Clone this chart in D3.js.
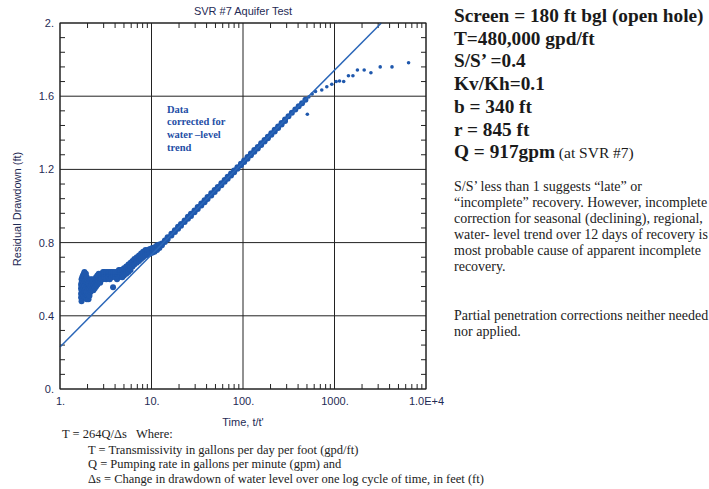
<!DOCTYPE html>
<html>
<head>
<meta charset="utf-8">
<title>SVR #7 Aquifer Test</title>
<style>
  body { margin: 0; background: #ffffff; }
  .sans { font-family: "Liberation Sans", Arial, sans-serif; }
  .serif { font-family: "Liberation Serif", "Times New Roman", serif; }
</style>
</head>
<body>
<script src="https://cdn.jsdelivr.net/npm/d3@7/dist/d3.min.js"></script>
<script>

// residual drawdown (ft) vs t/t'
var tRatio = [
  1.70,1.70,1.70,1.70, 1.72,1.72,1.72,1.72, 1.75,1.75,1.75,1.75, 1.78,1.78,1.78,1.78,
  1.82,1.82,1.82,1.82, 1.85,1.85,1.85,1.85, 1.88,1.88,1.88,1.88, 1.92,1.92,1.92,1.92,
  1.96,1.96,1.96,1.96, 2.00,2.00,2.00,2.00, 2.05,2.05,2.05,2.05, 2.10,2.10,2.10,2.10,
  2.15,2.15,2.15, 2.20,2.20,2.20, 2.26,2.26,2.26, 2.32,2.32,2.32, 2.40,2.40,2.40,
  2.48,2.48,2.48, 2.56,2.56,2.56, 2.65,2.65,2.65, 2.75,2.75,2.75, 2.85,2.85,2.85,
  2.95,2.95,2.95, 3.05,3.05,3.05, 3.20,3.20,3.20, 3.35,3.35,3.35, 3.50,3.50,3.50,
  3.65,3.65,3.65, 3.80,3.80,3.80, 4.00,4.00,4.00, 4.20,4.20,4.20, 4.40,4.40,4.40,
  4.60,4.60,4.60, 4.80,4.80,4.80, 5.00,5.00,5.00, 5.30,5.30,5.30, 5.60,5.60,5.60,
  5.90,5.90,5.90, 6.20,6.20,6.20, 6.50,6.50,6.50, 6.90,6.90,6.90, 7.30,7.30,7.30,
  7.70,7.70,7.70, 8.10,8.10,8.10, 8.60,8.60,8.60, 9.10,9.10,9.10, 9.60,9.60,9.60,
  10.2,10.2,10.2, 10.8,10.8,10.8, 11.5,11.5,11.5, 12.2,12.2,12.2,
  13,13, 14,14, 15,15, 16.5,16.5, 18,18, 19.5,19.5, 21,21, 23,23, 25,25, 27,27,
  29.5,29.5, 32,32, 35,35, 38,38, 41,41, 45,45, 49,49, 53,53, 58,58, 63,63,
  68,68, 74,74, 80,80, 87,87, 95,95, 103,103, 112,112, 122,122, 133,133, 145,145,
  158,158, 172,172, 187,187, 204,204, 222,222, 242,242, 264,264, 288,288,
  314, 342, 373, 406, 442, 481, 505, 524, 570, 620,
  726, 824, 934, 1042, 1134, 1260, 1420, 1590, 1780, 2110, 2500, 3160, 4250, 6450
];
var resid = [
  0.52,0.55,0.57,0.50, 0.54,0.58,0.60,0.48, 0.56,0.59,0.52,0.61, 0.57,0.53,0.60,0.62,
  0.55,0.63,0.58,0.51, 0.56,0.61,0.53,0.64, 0.54,0.59,0.62,0.50, 0.55,0.60,0.52,0.63,
  0.53,0.58,0.49,0.61, 0.55,0.51,0.59,0.57, 0.56,0.52,0.58,0.49, 0.55,0.57,0.59,0.51,
  0.56,0.53,0.60, 0.57,0.59,0.54, 0.58,0.55,0.60, 0.57,0.59,0.54, 0.58,0.60,0.55,
  0.59,0.61,0.56, 0.60,0.57,0.62, 0.59,0.61,0.63, 0.60,0.62,0.58, 0.61,0.63,0.60,
  0.62,0.60,0.64, 0.61,0.63,0.64, 0.62,0.64,0.60, 0.63,0.61,0.64, 0.62,0.64,0.60,
  0.63,0.61,0.64, 0.62,0.64,0.556, 0.61,0.63,0.64, 0.62,0.64,0.60, 0.63,0.61,0.65,
  0.62,0.64,0.65, 0.63,0.65,0.61, 0.64,0.62,0.66, 0.65,0.63,0.67, 0.66,0.64,0.68,
  0.67,0.65,0.69, 0.68,0.67,0.70, 0.69,0.68,0.71, 0.70,0.69,0.72, 0.71,0.70,0.73,
  0.72,0.71,0.74, 0.73,0.72,0.75, 0.74,0.73,0.76, 0.745,0.76,0.735, 0.75,0.765,0.74,
  0.755,0.77,0.745, 0.76,0.775,0.75, 0.77,0.785,0.76, 0.78,0.79,0.77,
  0.795,0.785, 0.812,0.803, 0.829,0.818, 0.848,0.839, 0.867,0.858, 0.886,0.876,
  0.902,0.892, 0.921,0.912, 0.941,0.930, 0.957,0.946,
  0.976,0.966, 0.994,0.984, 1.014,1.003, 1.031,1.021, 1.049,1.038, 1.069,1.058,
  1.087,1.077, 1.104,1.094, 1.125,1.114, 1.142,1.132,
  1.160,1.149, 1.178,1.167, 1.194,1.184, 1.212,1.203, 1.231,1.222, 1.249,1.240,
  1.268,1.258, 1.287,1.277, 1.306,1.296, 1.323,1.314,
  1.343,1.333, 1.361,1.352, 1.379,1.370, 1.398,1.389, 1.416,1.407, 1.435,1.426,
  1.454,1.446, 1.472,1.464,
  1.491, 1.509, 1.527, 1.545, 1.562, 1.580, 1.501, 1.596, 1.612, 1.626,
  1.634, 1.652, 1.665, 1.680, 1.683, 1.680, 1.712, 1.712, 1.743, 1.743, 1.728, 1.760, 1.760, 1.783
];

// straight-line fit (Jacob), ends of the drawn segment
var fitT = [1, 3250];
var fitS = [0.23, 2.0];

var xMajor = [1, 10, 100, 1000, 10000];
var xLabels = ["1.", "10.", "100.", "1000.", "1.0E+4"];
var yMajor = [0, 0.4, 0.8, 1.2, 1.6, 2.0];
var yLabels = ["0.", "0.4", "0.8", "1.2", "1.6", "2."];

var paramLines = [
  "Screen = 180 ft bgl (open hole)",
  "T=480,000 gpd/ft",
  "S/S\u2019 =0.4",
  "Kv/Kh=0.1",
  "b = 340 ft",
  "r = 845 ft",
  "Q = 917gpm"
];
var noteLines = [
  "S/S\u2019 less than 1 suggests \u201Clate\u201D or",
  "\u201Cincomplete\u201D recovery. However, incomplete",
  "correction for seasonal (declining), regional,",
  "water- level trend over 12 days of recovery is",
  "most probable cause of apparent incomplete",
  "recovery."
];
var noteLines2 = [
  "Partial penetration corrections neither needed",
  "nor applied."
];
var annotLines = ["Data", "corrected for", "water \u2013level", "trend"];
var legendLines = [
  "T = Transmissivity in gallons per day per foot (gpd/ft)",
  "Q = Pumping rate in gallons per minute (gpm) and",
  "\u0394s = Change in drawdown of water level over one log cycle of time, in feet (ft)"
];

var width = 709, height = 489;
var pL = 60, pT = 23, pR = 426, pB = 389;
var ink = "#1f2b55", blue = "#1f58ad";

var svg = d3.select("body").append("svg")
  .attr("width", width)
  .attr("height", height);

svg.append("rect").attr("width", width).attr("height", height).attr("fill", "#fff");

var x = d3.scaleLog().domain([1, 1e4]).range([pL, pR]);
var y = d3.scaleLinear().domain([0, 2]).range([pB, pT]);

var plot = svg.append("g");

// grid
plot.selectAll(".vgrid").data(xMajor).enter().append("line")
  .attr("x1", d => x(d)).attr("x2", d => x(d))
  .attr("y1", pT).attr("y2", pB)
  .attr("stroke", "#222").attr("stroke-width", 1);
plot.selectAll(".hgrid").data(yMajor).enter().append("line")
  .attr("x1", pL).attr("x2", pR)
  .attr("y1", d => y(d)).attr("y2", d => y(d))
  .attr("stroke", "#222").attr("stroke-width", 1);

// minor ticks
var xMinor = x.ticks().filter(d => xMajor.indexOf(d) < 0);
plot.selectAll(".xmb").data(xMinor).enter().append("line")
  .attr("x1", d => x(d)).attr("x2", d => x(d))
  .attr("y1", pB).attr("y2", pB - 5)
  .attr("stroke", "#222");
plot.selectAll(".xmt").data(xMinor).enter().append("line")
  .attr("x1", d => x(d)).attr("x2", d => x(d))
  .attr("y1", pT).attr("y2", pT + 5)
  .attr("stroke", "#222");
var yMinor = d3.range(1, 25).filter(i => i % 5 != 0).map(i => i * 0.08);
plot.selectAll(".yml").data(yMinor).enter().append("line")
  .attr("x1", pL).attr("x2", pL + 5)
  .attr("y1", d => y(d)).attr("y2", d => y(d))
  .attr("stroke", "#222");
plot.selectAll(".ymr").data(yMinor).enter().append("line")
  .attr("x1", pR).attr("x2", pR - 5)
  .attr("y1", d => y(d)).attr("y2", d => y(d))
  .attr("stroke", "#222");

// axes labels
var xAxis = svg.append("g")
  .attr("transform", "translate(0," + pB + ")")
  .call(d3.axisBottom(x).tickValues(xMajor).tickFormat((d, i) => xLabels[i]).tickSize(0).tickPadding(8));
var yAxis = svg.append("g")
  .attr("transform", "translate(" + pL + ",0)")
  .call(d3.axisLeft(y).tickValues(yMajor).tickFormat((d, i) => yLabels[i]).tickSize(0).tickPadding(6));
[xAxis, yAxis].forEach(function(g) {
  g.select(".domain").remove();
  g.selectAll("text")
    .attr("class", "sans")
    .style("font-size", "11px")
    .attr("fill", ink);
});

// data
svg.append("clipPath").attr("id", "plotclip").append("rect")
  .attr("x", pL).attr("y", pT).attr("width", pR - pL).attr("height", pB - pT);

var pts = d3.range(tRatio.length).map(i => ({ t: tRatio[i], s: resid[i] }));
plot.append("g").attr("clip-path", "url(#plotclip)")
  .selectAll("circle").data(pts).enter().append("circle")
  .attr("cx", d => x(d.t))
  .attr("cy", d => y(d.s))
  .attr("r", d => d.t < 500 ? 3 : 1.8)
  .attr("fill", blue);

var line = d3.line().x(d => x(d[0])).y(d => y(d[1]));
plot.append("path")
  .datum(fitT.map((t, i) => [t, fitS[i]]))
  .attr("d", line)
  .attr("fill", "none")
  .attr("stroke", "#2a66b8")
  .attr("stroke-width", 1.5);

// frame
plot.append("rect")
  .attr("x", pL).attr("y", pT)
  .attr("width", pR - pL).attr("height", pB - pT)
  .attr("fill", "none").attr("stroke", "#222").attr("stroke-width", 1);

// titles
svg.append("text").attr("class", "sans")
  .attr("x", (pL + pR) / 2).attr("y", 15)
  .attr("text-anchor", "middle").style("font-size", "11px").attr("fill", ink)
  .text("SVR #7 Aquifer Test");
svg.append("text").attr("class", "sans")
  .attr("x", (pL + pR) / 2).attr("y", 426)
  .attr("text-anchor", "middle").style("font-size", "11px").attr("fill", ink)
  .text("Time, t/t'");
svg.append("text").attr("class", "sans")
  .attr("transform", "translate(21,209) rotate(-90)")
  .attr("text-anchor", "middle").style("font-size", "11px").attr("fill", ink)
  .text("Residual Drawdown (ft)");

// annotation inside plot
svg.append("g").selectAll("text").data(annotLines).enter().append("text")
  .attr("class", "serif")
  .attr("x", 167).attr("y", (d, i) => 112.7 + i * 12.6)
  .style("font-size", "10.5px").style("font-weight", "bold")
  .attr("fill", "#1f4fa6")
  .text(d => d);

// right block
var params = svg.append("g").selectAll("text").data(paramLines).enter().append("text")
  .attr("class", "serif")
  .attr("x", 454).attr("y", (d, i) => 22 + i * 22.7)
  .style("font-size", "19.3px").style("font-weight", "bold")
  .attr("fill", "#1a1a1a")
  .text(d => d);
params.filter((d, i) => i === paramLines.length - 1)
  .append("tspan").style("font-weight", "normal").style("font-size", "15.5px")
  .text(" (at SVR #7)");

svg.append("g").selectAll("text").data(noteLines).enter().append("text")
  .attr("class", "serif")
  .attr("x", 454).attr("y", (d, i) => 190.5 + i * 16)
  .style("font-size", "14px").attr("fill", "#222")
  .text(d => d);
svg.append("g").selectAll("text").data(noteLines2).enter().append("text")
  .attr("class", "serif")
  .attr("x", 454).attr("y", (d, i) => 320 + i * 16)
  .style("font-size", "14px").attr("fill", "#222")
  .text(d => d);

// formula legend
svg.append("text").attr("class", "serif")
  .attr("x", 62).attr("y", 438)
  .style("font-size", "12.5px").attr("fill", "#222")
  .style("white-space", "pre")
  .text("T = 264Q/\u0394s   Where:");
svg.append("g").selectAll("text").data(legendLines).enter().append("text")
  .attr("class", "serif")
  .attr("x", 88).attr("y", (d, i) => 453.5 + i * 14.8)
  .style("font-size", "12.5px").attr("fill", "#222")
  .text(d => d);

</script>
</body>
</html>
